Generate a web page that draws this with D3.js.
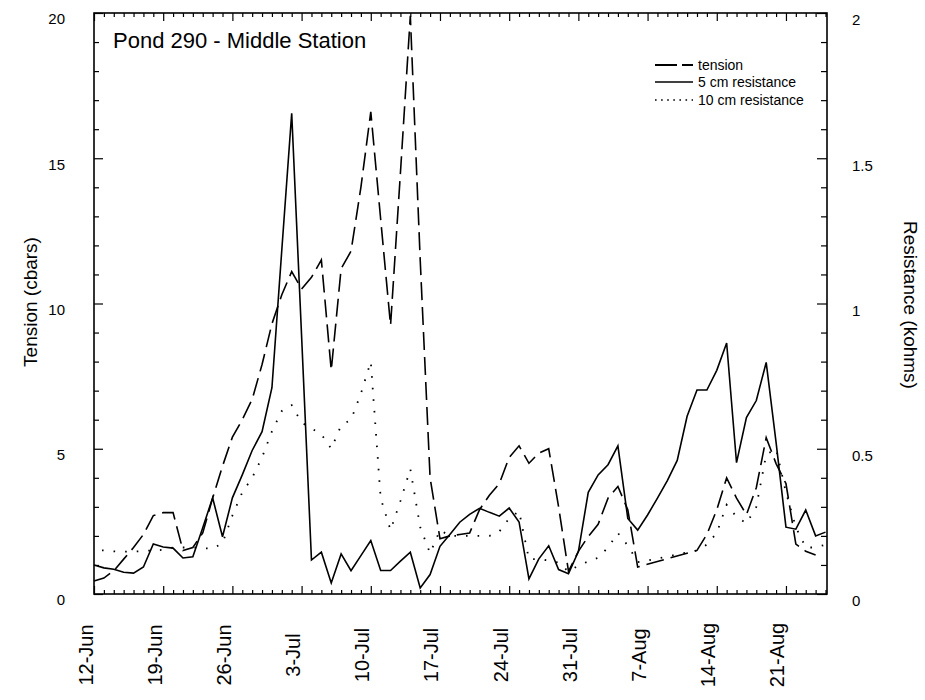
<!DOCTYPE html>
<html><head><meta charset="utf-8">
<script src="https://cdn.jsdelivr.net/npm/d3@7"></script>
<style>
body{margin:0;background:#fff;}
svg text{font-family:"Liberation Sans",Arial,Helvetica,sans-serif;fill:#000;}
</style></head><body>
<svg id="chart" width="925" height="700"></svg>
<script>
// ---- data ----
const dates = [
"Jun 12","Jun 13","Jun 14","Jun 15","Jun 16","Jun 17","Jun 18","Jun 19","Jun 20","Jun 21",
"Jun 22","Jun 23","Jun 24","Jun 25","Jun 26","Jun 27","Jun 28","Jun 29","Jun 30","Jul 1",
"Jul 2","Jul 3","Jul 4","Jul 5","Jul 6","Jul 7","Jul 8","Jul 9","Jul 10","Jul 11",
"Jul 12","Jul 13","Jul 14","Jul 15","Jul 16","Jul 17","Jul 18","Jul 19","Jul 20","Jul 21",
"Jul 22","Jul 23","Jul 24","Jul 25","Jul 26","Jul 27","Jul 28","Jul 29","Jul 30","Jul 31",
"Aug 1","Aug 2","Aug 3","Aug 4","Aug 5","Aug 6","Aug 7","Aug 8","Aug 9","Aug 10",
"Aug 11","Aug 12","Aug 13","Aug 14","Aug 15","Aug 16","Aug 17","Aug 18","Aug 19","Aug 20",
"Aug 21","Aug 22","Aug 23","Aug 24","Aug 25"];

// tension, cbars (left axis)
const tension = [
0.45,0.55,0.8,1.2,1.6,2.05,2.7,2.8,2.8,1.5,
1.6,2.1,3.3,4.4,5.4,6.0,6.7,7.9,9.3,10.3,
11.1,10.5,10.9,11.5,7.7,11.2,11.8,14.0,16.6,12.9,
9.25,14.5,19.9,11.5,4.0,1.9,2.0,2.05,2.1,2.9,
3.4,3.8,4.7,5.1,4.5,4.85,5.0,3.0,0.78,1.47,
1.98,2.4,3.3,3.7,2.9,0.93,null,null,null,null,
null,1.5,2.05,2.9,4.0,3.3,2.73,3.66,5.38,4.49,
3.8,1.72,1.47,1.34,null];

// 5 cm resistance, kohms (right axis)
const res5 = [
0.10,0.09,0.085,0.075,0.072,0.093,0.172,0.162,0.158,0.124,
0.128,0.228,0.331,0.197,0.331,0.41,0.494,0.559,0.71,1.185,
1.655,0.888,0.117,0.144,0.038,0.138,0.080,0.132,0.184,0.081,
0.081,0.113,0.144,0.021,0.067,0.164,0.205,0.247,0.274,0.295,
0.281,0.268,0.296,0.248,0.052,0.121,0.166,0.084,0.07,0.146,
0.35,0.41,0.445,0.51,0.26,0.22,0.272,0.33,0.39,0.46,
0.612,0.702,0.702,0.77,0.864,0.452,0.607,0.666,0.797,0.522,
0.23,0.223,0.289,0.2,0.213];

// 10 cm resistance, kohms (right axis)
const res10 = [
0.152,0.15,0.147,0.146,0.146,0.148,0.15,0.152,0.16,0.16,
0.16,0.158,0.156,0.175,0.27,0.35,0.40,0.47,0.56,0.63,
0.65,0.59,0.57,0.55,0.50,0.58,0.60,0.69,0.80,0.33,
0.22,0.32,0.43,0.23,0.14,0.22,0.20,0.20,0.20,0.20,
0.20,0.215,0.26,0.285,0.12,0.12,0.115,0.108,0.077,0.098,
0.112,0.125,0.16,0.21,0.167,0.11,0.115,null,null,null,
null,0.15,0.17,0.21,0.307,0.266,0.243,0.30,0.48,0.50,
0.35,0.23,0.16,0.16,0.17];

const tickDates  = ["Jun 12","Jun 19","Jun 26","Jul 3","Jul 10","Jul 17","Jul 24","Jul 31","Aug 7","Aug 14","Aug 21"];
const tickLabels = ["12-Jun","19-Jun","26-Jun","3-Jul","10-Jul","17-Jul","24-Jul","31-Jul","7-Aug","14-Aug","21-Aug"];
const leftTicks  = [0,5,10,15,20];
const rightTicks = [0,0.5,1,1.5,2];
const seriesNames = ["tension","5 cm resistance","10 cm resistance"];
const titleText = "Pond 290 - Middle Station";
const leftTitle = "Tension (cbars)";
const rightTitle = "Resistance (kohms)";

// ---- drawing ----
const parse = d3.timeParse("%b %d");
const dts = dates.map(parse);
const L = 94, R = 827, T = 13, B = 594;
const svg = d3.select("#chart");

const x = d3.scaleTime().domain([dts[0], dts[dts.length-1]]).range([L, 825.5]);
const yL = d3.scaleLinear().domain([0,20]).range([B, T]);
const yR = d3.scaleLinear().domain([0,2]).range([B, T]);

const tickD = tickDates.map(parse);
const minorDays = dts.filter(d => !tickD.some(t => +t === +d));

function clean(g){ g.select(".domain").remove(); g.selectAll("line").attr("stroke","#000").attr("stroke-width",1.2); }

// bottom ticks (inward)
svg.append("g").attr("transform",`translate(0,${B})`)
  .call(d3.axisTop(x).tickValues(minorDays).tickSize(4).tickFormat(""))
  .call(clean);
svg.append("g").attr("transform",`translate(0,${B})`)
  .call(d3.axisTop(x).tickValues(tickD).tickSize(8).tickFormat(""))
  .call(clean);
// top ticks (inward)
svg.append("g").attr("transform",`translate(0,${T})`)
  .call(d3.axisBottom(x).tickValues(minorDays).tickSize(4).tickFormat(""))
  .call(clean);
svg.append("g").attr("transform",`translate(0,${T})`)
  .call(d3.axisBottom(x).tickValues(tickD).tickSize(8).tickFormat(""))
  .call(clean);
// bottom labels, rotated
const xl = svg.append("g").attr("transform",`translate(0,${B})`)
  .call(d3.axisBottom(x).tickValues(tickD).tickSize(0).tickFormat((d,i)=>tickLabels[i]));
xl.select(".domain").remove();
xl.selectAll("text")
  .attr("transform","rotate(-90)")
  .attr("x",-61).attr("y",-2).attr("dy",0)
  .attr("text-anchor","middle")
  .style("font-size","20px");

// left ticks
svg.append("g").attr("transform",`translate(${L},0)`)
  .call(d3.axisRight(yL).tickValues(d3.range(0,21,1).filter(v=>v%5!==0)).tickSize(5).tickFormat(""))
  .call(clean);
svg.append("g").attr("transform",`translate(${L},0)`)
  .call(d3.axisRight(yL).tickValues(leftTicks).tickSize(9).tickFormat(""))
  .call(clean);
const ll = svg.append("g").attr("transform",`translate(${L},0)`)
  .call(d3.axisLeft(yL).tickValues(leftTicks).tickSize(0).tickPadding(29));
ll.select(".domain").remove();
ll.selectAll("text").attr("y",6).style("font-size","15px");

// right ticks
svg.append("g").attr("transform",`translate(${R},0)`)
  .call(d3.axisLeft(yR).tickValues(d3.range(0,21,1).filter(v=>v%5!==0).map(v=>v/10)).tickSize(6).tickFormat(""))
  .call(clean);
svg.append("g").attr("transform",`translate(${R},0)`)
  .call(d3.axisLeft(yR).tickValues(rightTicks).tickSize(10).tickFormat(""))
  .call(clean);
const rl = svg.append("g").attr("transform",`translate(${R},0)`)
  .call(d3.axisRight(yR).tickValues(rightTicks).tickSize(0).tickPadding(25).tickFormat(d3.format("~g")));
rl.select(".domain").remove();
rl.selectAll("text").attr("y",7).style("font-size","15px");

// frame
svg.append("rect").attr("x",L).attr("y",T).attr("width",R-L).attr("height",B-T)
  .attr("fill","none").attr("stroke","#000").attr("stroke-width",1.6);

// series
function pts(arr){ return arr.map((v,i)=>({d:dts[i],v})).filter(p=>p.v!=null); }
const lineL = d3.line().x(p=>x(p.d)).y(p=>yL(p.v));
const lineR = d3.line().x(p=>x(p.d)).y(p=>yR(p.v));

svg.append("path").datum(pts(res10)).attr("d",lineR)
  .attr("fill","none").attr("stroke","#000").attr("stroke-width",1.8)
  .attr("stroke-dasharray","1.6,10").attr("stroke-dashoffset",-8).attr("stroke-linecap","butt");
svg.append("path").datum(pts(tension)).attr("d",lineL)
  .attr("fill","none").attr("stroke","#000").attr("stroke-width",1.6)
  .attr("stroke-dasharray","18,7");
svg.append("path").datum(pts(res5)).attr("d",lineR)
  .attr("fill","none").attr("stroke","#000").attr("stroke-width",1.6)
  .attr("stroke-linejoin","miter");

// title
svg.append("text").attr("x",113).attr("y",48).style("font-size","22px").text(titleText);

// legend
const legY = [65,82,100];
const dashes = ["22,5",null,"1.6,4.5"];
seriesNames.forEach((name,i)=>{
  const ln = svg.append("line").attr("x1",655).attr("x2",693).attr("y1",legY[i]).attr("y2",legY[i])
    .attr("stroke","#000").attr("stroke-width",i===0?2:1.4);
  if(dashes[i]) ln.attr("stroke-dasharray",dashes[i]);
  svg.append("text").attr("x",698).attr("y",legY[i]).attr("dy","0.35em")
    .style("font-size","14px").text(name);
});

// axis titles
svg.append("text").attr("transform","translate(37,302) rotate(-90)")
  .attr("text-anchor","middle").style("font-size","19px").text(leftTitle);
svg.append("text").attr("transform","translate(904,305) rotate(90)")
  .attr("text-anchor","middle").style("font-size","19px").text(rightTitle);
</script>
</body></html>
